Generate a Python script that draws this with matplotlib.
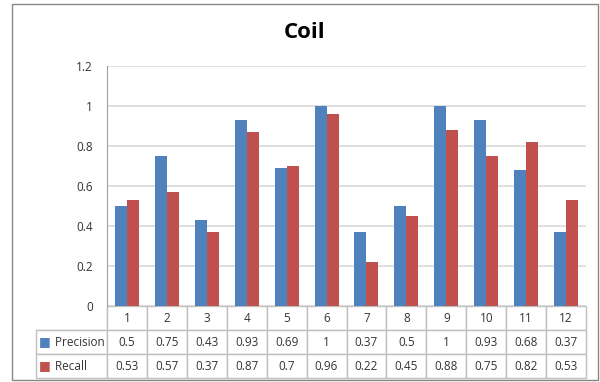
import matplotlib
matplotlib.use("Agg")
from matplotlib import pyplot as plt
from matplotlib.patches import Rectangle
import numpy as np

categories = ['1', '2', '3', '4', '5', '6', '7', '8', '9', '10', '11', '12']
precision = [0.5, 0.75, 0.43, 0.93, 0.69, 1, 0.37, 0.5, 1, 0.93, 0.68, 0.37]
recall = [0.53, 0.57, 0.37, 0.87, 0.7, 0.96, 0.22, 0.45, 0.88, 0.75, 0.82, 0.53]
series_names = ['Precision', 'Recall']
clrs = ['#4F81BD', '#C0504D']

plt.rcParams['font.family'] = ['Open Sans', 'DejaVu Sans']

fig = plt.figure(figsize=(6, 3.82), dpi=100)
ax = fig.add_axes([107 / 600, 76 / 382, 479 / 600, 240 / 382])

# outer chart border
fig.patches.append(Rectangle((12 / 600, 2 / 382), 586 / 600, 376 / 382,
                             transform=fig.transFigure, fill=False,
                             edgecolor='#868686', linewidth=1))

x = np.arange(len(categories))
w = 0.3
ax.bar(x - w / 2, precision, w, color=clrs[0], zorder=3)
ax.bar(x + w / 2, recall, w, color=clrs[1], zorder=3)

ax.set_xlim(-0.5, len(categories) - 0.5)
ax.set_ylim(0, 1.2)
ax.set_yticks(np.arange(0, 1.21, 0.2))
ax.set_yticklabels(['0', '0.2', '0.4', '0.6', '0.8', '1', '1.2'], fontsize=8.5, color='#333333')
ax.tick_params(axis='y', length=0, pad=10)
ax.set_xticks([])
ax.grid(axis='y', color='#D9D9D9', linewidth=1.2, zorder=0)
for s in ['top', 'right', 'bottom']:
    ax.spines[s].set_visible(False)
ax.spines['left'].set_color('#A0A0A0')

fig.text(305 / 600, 1 - 32 / 382, 'Coil', fontsize=16, fontweight='bold',
         ha='center', va='center')

# data table below the plot
cell_text = [['      ' + series_names[0]] + [str(v) for v in precision],
             ['      ' + series_names[1]] + [str(v) for v in recall]]
lw = 71.0
cw = 479.0 / 12
tot = lw + 479.0
tbl = ax.table(cellText=cell_text, colLabels=[''] + categories,
               colWidths=[lw / tot] + [cw / tot] * 12,
               cellLoc='center', bbox=[-lw / 479, -0.3, tot / 479, 0.3])
tbl.auto_set_font_size(False)
tbl.set_fontsize(8.5)
for (r, c), cell in tbl.get_celld().items():
    cell.set_edgecolor('#BFBFBF')
    cell.set_linewidth(1)
    cell.get_text().set_color('#333333')
    if c == 0:
        cell.get_text().set_ha('left')
        cell.PAD = 0.02
tbl[0, 0].visible_edges = 'BR'

# legend keys inside the table
for i in range(2):
    ax.text(-lw / 479 + 0.006, -0.15 - 0.1 * i, '■',
            color=clrs[i], fontsize=9, va='center', ha='left',
            transform=ax.transAxes, family=['DejaVu Sans'])

plt.savefig('out.png', dpi=100)
